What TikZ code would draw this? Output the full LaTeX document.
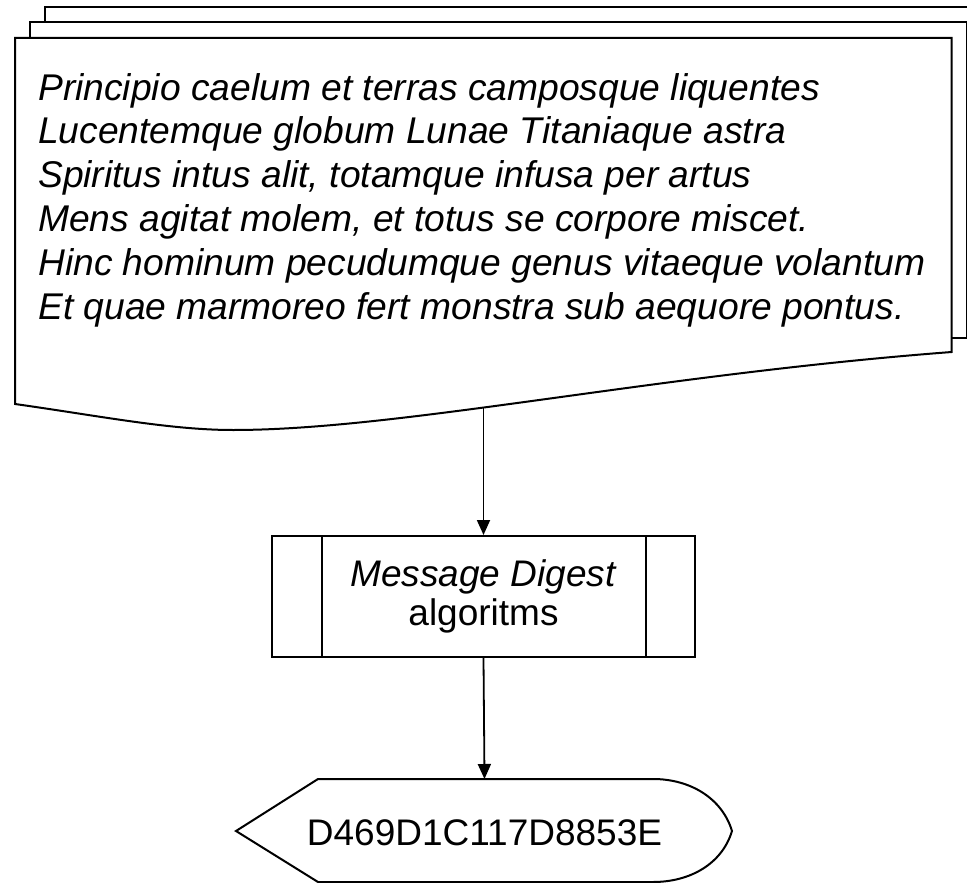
\documentclass[tikz,border=0pt]{standalone}
\usepackage{fontspec}
\setmainfont{Liberation Sans}
\usetikzlibrary{arrows.meta}
\begin{document}
\begin{tikzpicture}[x=1pt,y=-1pt,
  pagestyle/.style={draw=black, fill=white, line width=2pt, line join=miter},
  procbox/.style={draw=black, fill=white, line width=2pt, minimum width=423pt, minimum height=121pt, align=center, inner sep=0pt, font=\fontsize{37}{39}\selectfont},
  divline/.style={line width=1.6pt},
  poem/.style={anchor=north west, align=left, inner sep=0pt, font=\itshape\fontsize{37.2}{43.8}\selectfont},
  dispshape/.style={draw=black, fill=white, line width=2pt},
  disptext/.style={inner sep=0pt, font=\fontsize{37}{40}\selectfont},
  conn/.style={line width=1.8pt, -{Triangle[length=15pt,width=13pt]}}]
\useasboundingbox (0,0) rectangle (967,883);
\clip (0,0) rectangle (967,883);
% multi-document shape
\draw[pagestyle] (45,7) rectangle (982,322.5);
\draw[pagestyle] (29.5,22.5) rectangle (966.5,337.7);
\draw[pagestyle] (15,38) -- (951.7,38) -- (951.7,352)
  .. controls (650,375) and (400,430) .. (233,430)
  .. controls (170,430) and (100,416) .. (15,404) -- cycle;
\node[poem] (doc) at (38,73) {Principio caelum et terras camposque liquentes\\
Lucentemque globum Lunae Titaniaque astra\\
Spiritus intus alit, totamque infusa per artus\\
Mens agitat molem, et totus se corpore miscet.\\
Hinc hominum pecudumque genus vitaeque volantum\\
Et quae marmoreo fert monstra sub aequore pontus.};
\coordinate (docout) at (483.5,407);
% predefined process
\node[procbox] (md) at (483.5,596.5) {\textit{Message Digest}\\algoritms};
\draw[divline] ([xshift=51pt]md.north west) -- ([xshift=51pt]md.south west);
\draw[divline] ([xshift=-50pt]md.north east) -- ([xshift=-50pt]md.south east);
% display shape
\draw[dispshape] (236,831) -- (318,779) -- (653,779)
  .. controls (690,779) and (722,798) .. (732,831)
  .. controls (722,864) and (690,882) .. (653,882) -- (318,882) -- cycle;
\coordinate (disptop) at (484.5,779);
\node[disptext, anchor=base] (disp) at (484.5,845) {D469D1C117D8853E};
% connectors
\draw[conn] (docout) -- (md.north);
\draw[conn] (md.south) -- (disptop);
\end{tikzpicture}
\end{document}
